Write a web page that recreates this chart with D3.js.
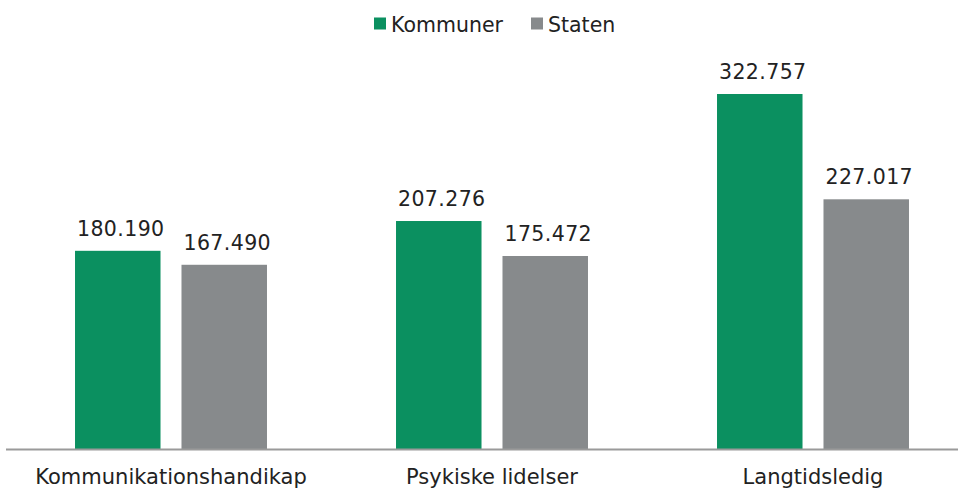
<!DOCTYPE html>
<html><head><meta charset="utf-8">
<script src="https://cdn.jsdelivr.net/npm/d3@7"></script>
<style>body{margin:0;background:#fff;} svg{display:block;font-family:"DejaVu Sans",Verdana,sans-serif;}</style>
</head><body>
<svg id="c" width="958" height="488"></svg>
<script>
const categories = ["Kommunikationshandikap", "Psykiske lidelser", "Langtidsledig"];
const seriesNames = ["Kommuner", "Staten"];
const kommuner = [180.190, 207.276, 322.757];
const staten = [167.490, 175.472, 227.017];
const colors = ["#0b9060", "#878a8c"];

const svg = d3.select("#c");
const baseY = 449;
const x0 = d3.scaleBand().domain(categories).range([10.5, 973.5]).paddingInner(0.402).paddingOuter(0.201);
const x1 = d3.scaleBand().domain(seriesNames).range([0, x0.bandwidth()]).paddingInner(0.197).paddingOuter(0);
const y = d3.scaleLinear().domain([0, 322.757]).range([baseY, 94]);
const fmt = v => v.toFixed(3);

const data = categories.map((c, i) => ({cat: c, vals: [kommuner[i], staten[i]]}));
const g = svg.selectAll("g.grp").data(data).join("g").attr("transform", d => `translate(${x0(d.cat)},0)`);
g.selectAll("rect").data(d => d.vals.map((v, j) => ({s: seriesNames[j], v, j}))).join("rect")
  .attr("x", d => x1(d.s)).attr("width", x1.bandwidth())
  .attr("y", d => y(d.v)).attr("height", d => baseY - y(d.v)).attr("fill", d => colors[d.j]);
g.selectAll("text.val").data(d => d.vals.map((v, j) => ({s: seriesNames[j], v, j}))).join("text")
  .attr("class", "val").attr("x", d => x1(d.s) + x1.bandwidth() / 2 + 3).attr("y", d => y(d.v) - 15)
  .attr("text-anchor", "middle").attr("font-size", 20.5).attr("letter-spacing", 0.4)
  .attr("fill", "#222").text(d => fmt(d.v));

svg.append("line").attr("x1", 6).attr("x2", 958).attr("y1", baseY + 0.5).attr("y2", baseY + 0.5)
  .attr("stroke", "#9a9a9a").attr("stroke-width", 2);

const xAxis = d3.axisBottom(x0).tickSize(0).tickPadding(0);
const ax = svg.append("g").attr("transform", `translate(0,${baseY})`).call(xAxis);
ax.select(".domain").remove();
ax.selectAll("text").attr("font-size", 21).attr("fill", "#222").attr("dy", null).attr("y", 35)
  .style("font-family", '"DejaVu Sans",Verdana,sans-serif');

const legendX = [374, 531];
const lg = svg.selectAll("g.lg").data(seriesNames).join("g").attr("transform", (d, i) => `translate(${legendX[i]},17.5)`);
lg.append("rect").attr("width", 12).attr("height", 12).attr("fill", (d, i) => colors[i]);
lg.append("text").attr("x", 17).attr("y", 14.5).attr("font-size", 20.5).attr("fill", "#222").text(d => d);
</script>
</body></html>
